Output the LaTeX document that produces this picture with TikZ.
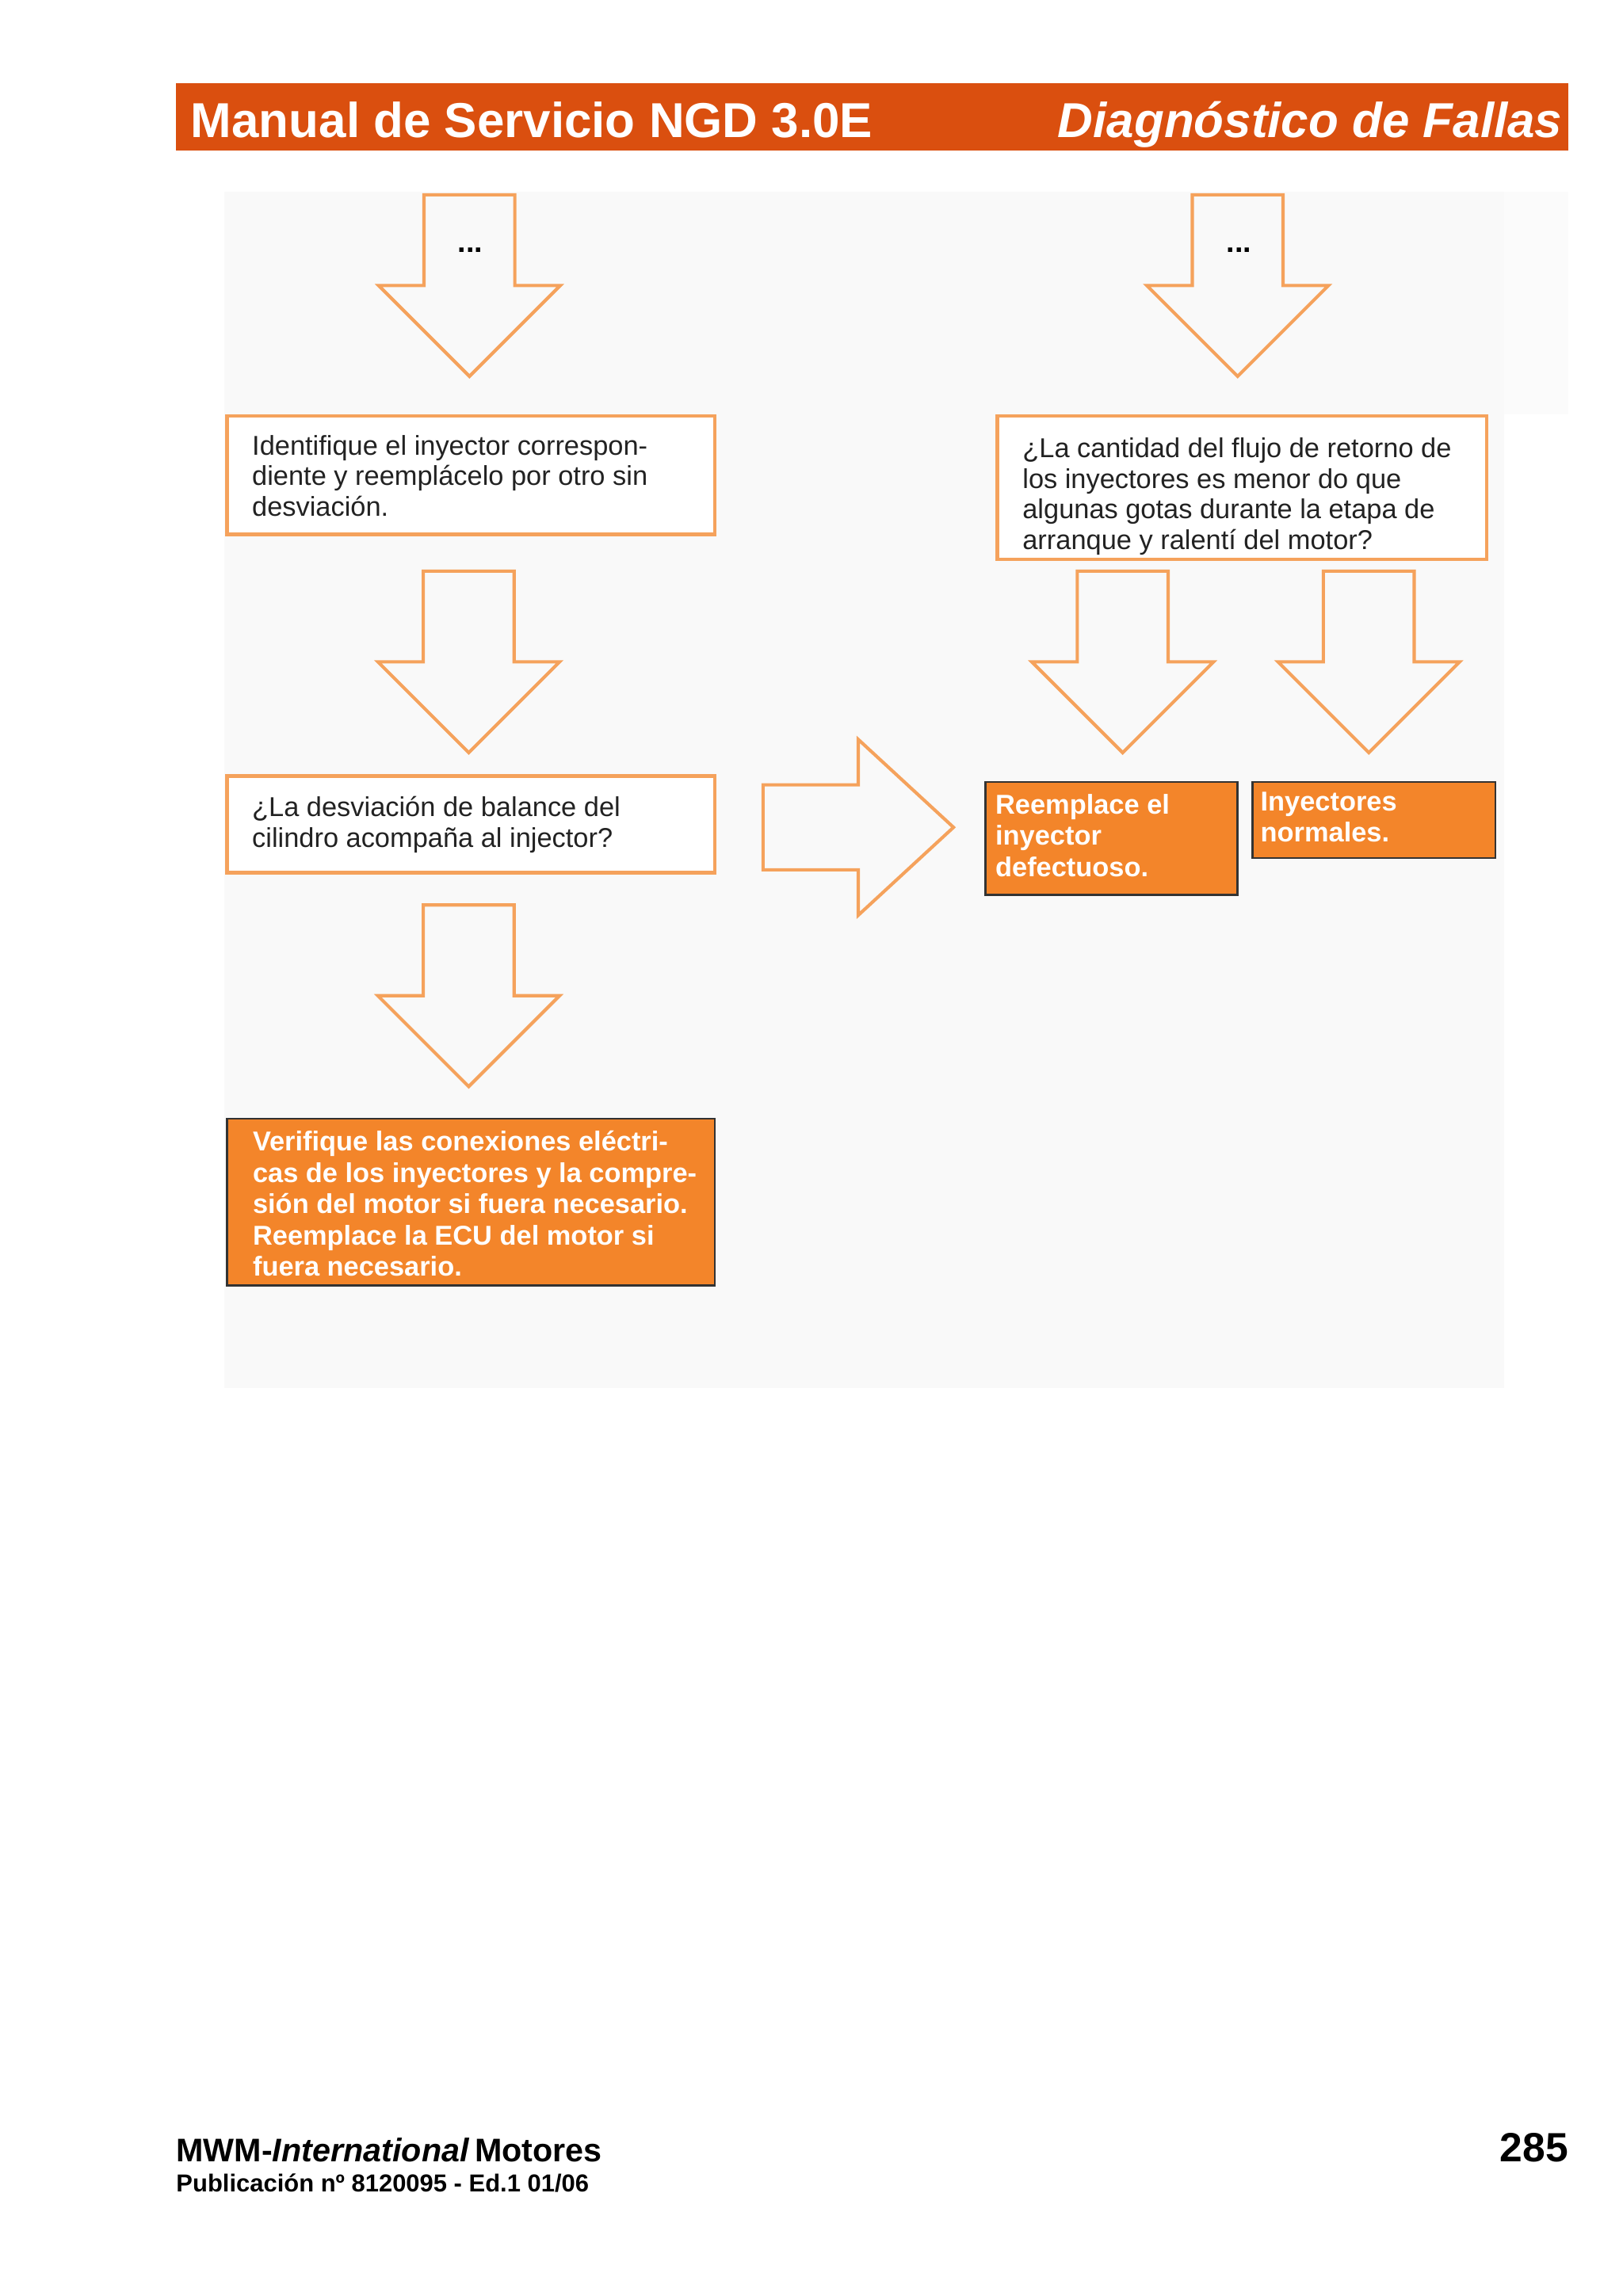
\documentclass[tikz,border=0pt]{standalone}
\usepackage{fontspec}
\setmainfont{Liberation Sans}
\newlength\pxu
\setlength\pxu{0.5373pt}
\definecolor{headc}{HTML}{DA4F0F}
\definecolor{arrc}{HTML}{F5A25C}
\definecolor{fillc}{HTML}{F3852A}
\definecolor{bgc}{HTML}{F9F9F9}
\definecolor{bgd}{HTML}{FBFBFB}
\definecolor{txtc}{HTML}{222222}
\begin{document}
\begin{tikzpicture}[x=0.5373pt,y=-0.5373pt,
  arrowline/.style={draw=arrc, line width=1.2pt, line join=miter},
  whitebox/.style={draw=arrc, line width=1.3pt, fill=white, rectangle, inner sep=0pt},
  orangebox/.style={draw=black!80, line width=0.8pt, fill=fillc, rectangle, inner sep=0pt},
  wtext/.style={anchor=west, align=left, inner sep=0pt, text=txtc, font=\fontsize{10pt}{11.3pt}\selectfont},
  otext/.style={anchor=west, align=left, inner sep=0pt, text=white, font=\fontsize{10pt}{11.5pt}\selectfont\bfseries},
  pics/downarr/.style={code={
     \draw[arrowline] (-31,0) -- (31,0) -- (31,62) -- (62,62) -- (0,124) -- (-62,62) -- (-31,62) -- cycle;}},
  pics/rightarr/.style={code={
     \draw[arrowline] (0,-29) -- (65,-29) -- (65,-60) -- (130,0) -- (65,60) -- (65,29) -- (0,29) -- cycle;}}
]
\useasboundingbox (0,0) rectangle (1108,1568);
\fill[white] (0,0) rectangle (1108,1568);

% header
\fill[headc] (120,57) rectangle (1071,103);
\node[anchor=base west, inner sep=0pt, text=white, font=\fontsize{18pt}{20pt}\selectfont\bfseries] (htl) at (130,94) {Manual de Servicio NGD 3.0E};
\node[anchor=base east, inner sep=0pt, text=white, font=\fontsize{18pt}{20pt}\selectfont\bfseries\itshape] (htr) at (1067,94) {Diagnóstico de Fallas};

% diagram background
\fill[bgd] (1027,131) rectangle (1071,283);
\fill[bgc] (153,131) rectangle (1027,948);

% arrows
\pic (a1) at (320.5,133) {downarr};
\pic (a2) at (845,133) {downarr};
\node[font=\fontsize{11pt}{12pt}\selectfont\bfseries] (d1) at (321,171) {...};
\node[font=\fontsize{11pt}{12pt}\selectfont\bfseries] (d2) at (846,171) {...};

% boxes
\node[whitebox, minimum width=333\pxu, minimum height=81\pxu] (b1) at (321.5,324.5) {};
\node[wtext] (b1t) at ([xshift=18\pxu,yshift=-0.5\pxu]b1.west)
  {Identifique el inyector correspon-\\diente y reemplácelo por otro sin\\desviación.};
\node[whitebox, minimum width=334\pxu, minimum height=98\pxu] (bq) at (848,333) {};
\node[wtext] (bqt) at ([xshift=18\pxu,yshift=-6\pxu]bq.west)
  {¿La cantidad del flujo de retorno de\\los inyectores es menor do que\\algunas gotas durante la etapa de\\arranque y ralentí del motor?};

\pic (a3) at (320,390) {downarr};
\pic (a4) at (766.5,390) {downarr};
\pic (a5) at (934.5,390) {downarr};

\node[whitebox, minimum width=333\pxu, minimum height=66\pxu] (b2) at (321.5,563) {};
\node[wtext] (b2t) at ([xshift=18\pxu]b2.west)
  {¿La desviación de balance del\\cilindro acompaña al injector?};

\pic (a6) at (521,565) {rightarr};

\node[orangebox, minimum width=172\pxu, minimum height=77\pxu] (r1) at (759,572.5) {};
\node[otext] (r1t) at ([xshift=7\pxu,yshift=2\pxu]r1.west)
  {Reemplace el\\inyector\\defectuoso.};
\node[orangebox, minimum width=166\pxu, minimum height=52\pxu] (r2) at (938,560) {};
\node[otext] (r2t) at ([xshift=6\pxu,yshift=2\pxu]r2.west)
  {Inyectores\\normales.};

\pic (a7) at (320,618) {downarr};

\node[orangebox, minimum width=333\pxu, minimum height=114\pxu] (r3) at (321.5,821) {};
\node[otext] (r3t) at ([xshift=18\pxu,yshift=-1\pxu]r3.west)
  {Verifique las conexiones eléctri-\\cas de los inyectores y la compre-\\sión del motor si fuera necesario.\\Reemplace la ECU del motor si\\fuera necesario.};

% footer
\node[anchor=base west, inner sep=0pt, font=\fontsize{12pt}{14pt}\selectfont\bfseries] (f1) at (120,1476) {MWM-\textit{International}\,Motores};
\node[anchor=base west, inner sep=0pt, font=\fontsize{9pt}{11pt}\selectfont\bfseries] (f2) at (120,1497) {Publicación nº 8120095 - Ed.1 01/06};
\node[anchor=base east, inner sep=0pt, font=\fontsize{15pt}{17pt}\selectfont\bfseries] (f3) at (1071,1476) {285};
\end{tikzpicture}
\end{document}
